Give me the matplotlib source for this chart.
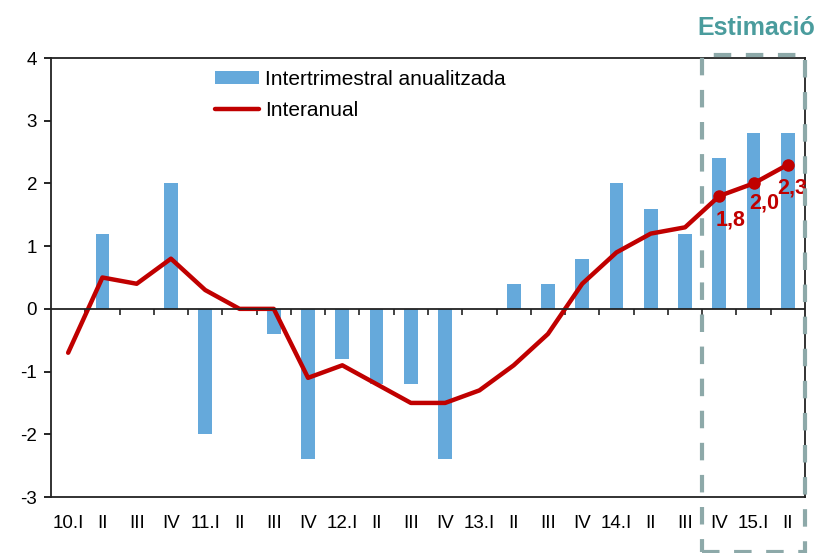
import matplotlib.pyplot as plt
from matplotlib.patches import Rectangle
from matplotlib.ticker import FixedLocator, NullFormatter

plt.rcParams['font.family'] = ['Liberation Sans', 'DejaVu Sans']
plt.rcParams['axes.unicode_minus'] = False

# dades
trimestres = ['10.I', 'II', 'III', 'IV', '11.I', 'II', 'III', 'IV',
              '12.I', 'II', 'III', 'IV', '13.I', 'II', 'III', 'IV',
              '14.I', 'II', 'III', 'IV', '15.I', 'II']
intertrimestral = [0, 1.2, 0, 2.0, -2.0, 0, -0.4, -2.4,
                   -0.8, -1.2, -1.2, -2.4, 0, 0.4, 0.4, 0.8,
                   2.0, 1.6, 1.2, 2.4, 2.8, 2.8]
interanual = [-0.7, 0.5, 0.4, 0.8, 0.3, 0.0, 0.0, -1.1,
              -0.9, -1.2, -1.5, -1.5, -1.3, -0.9, -0.4, 0.4,
              0.9, 1.2, 1.3, 1.8, 2.0, 2.3]
etiquetes_est = ['1,8', '2,0', '2,3']

blau = '#65A9DB'
vermell = '#C00000'
gris = '#8DA9A9'

fig = plt.figure(figsize=(8.2, 5.53), dpi=100)
ax = fig.add_axes([51/820, 1-497/553, 754/820, 439/553])

x = list(range(len(trimestres)))
barres = ax.bar(x, intertrimestral, width=0.4, color=blau, zorder=2)
linia, = ax.plot(x, interanual, color=vermell, linewidth=3.2, zorder=3,
                 solid_capstyle='round')

# punts estimats
est_x = x[-3:]
est_y = interanual[-3:]
ax.plot(est_x, est_y, 'o', color=vermell, markersize=8, zorder=4)
offsets = [(8, -17), (8, -14), (3, -17)]
for xi, yi, t, off in zip(est_x, est_y, etiquetes_est, offsets):
    ax.annotate(t, (xi, yi), xytext=off, textcoords='offset points',
                ha='center', va='center', color=vermell, fontsize=15.5, fontweight='bold')

ax.set_xlim(-0.5, len(trimestres) - 0.5)
ax.set_ylim(-3, 4)
ax.set_yticks(range(-3, 5))
ax.tick_params(axis='y', labelsize=13.5, direction='out', length=5, width=1.2, pad=5)
ax.set_xticks(x)
ax.set_xticklabels(trimestres)
ax.tick_params(axis='x', labelsize=13.5, length=0, pad=13)
for s in ax.spines.values():
    s.set_linewidth(1.3)
    s.set_color('#222222')

# eix del zero amb marques
ax.axhline(0, color='#222222', linewidth=1.3, zorder=5)
sec = ax.secondary_xaxis(3/7)
sec.spines['bottom'].set_visible(False)
sec.xaxis.set_major_locator(FixedLocator([i + 0.5 for i in x[:-1]]))
sec.xaxis.set_major_formatter(NullFormatter())
sec.tick_params(direction='out', length=4, width=1.2, color='#222222')

# requadre d'estimació
rect = Rectangle((18.5, -3.88), 3.0, 7.93, fill=False, edgecolor=gris, linewidth=3,
                 linestyle=(0, (4.2, 3.5)), clip_on=False, zorder=6)
ax.add_patch(rect)
fig.text(697/820, 1-28/553, 'Estimació', color='#4A9C9D', fontsize=18,
         fontweight='bold', va='center', ha='left')

ax.legend([barres, linia], ['Intertrimestral anualitzada', 'Interanual'],
          loc='upper left', bbox_to_anchor=(0.193, 1.015), frameon=False, fontsize=15,
          handlelength=2.1, handleheight=0.6, labelspacing=0.55, handletextpad=0.3)

fig.savefig('out.png', dpi=100)
